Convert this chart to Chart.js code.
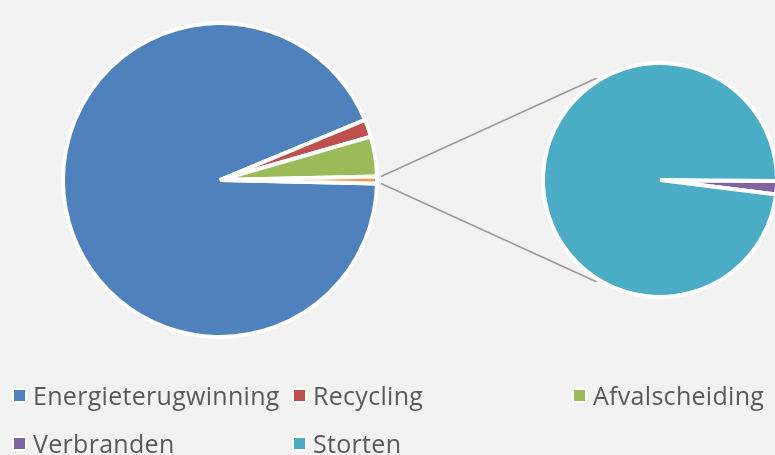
<!DOCTYPE html>
<html>
<head>
<meta charset="utf-8">
<script src="https://cdn.jsdelivr.net/npm/chart.js@4/dist/chart.umd.min.js"></script>
<style>
  html, body { margin: 0; padding: 0; }
  body { width: 775px; height: 455px; background: #f2f2f2; overflow: hidden; position: relative; font-family: 'Open Sans', sans-serif; }
  canvas { position: absolute; }
  #mainPie { left: 0; top: 0; z-index: 1; }
  #lines { left: 0; top: 0; z-index: 2; pointer-events: none; }
  #subPie { left: 530px; top: 50px; z-index: 3; }
  #legend { position: absolute; left: 12px; top: 371px; display: grid; grid-template-columns: 280px 280px 240px; z-index: 4; }
  .item { height: 48px; display: flex; align-items: center; color: #595959; font-size: 25px; letter-spacing: 0.3px; white-space: nowrap; }
  .box { width: 11px; height: 11px; border: 2px solid #fff; margin-right: 6px; flex: none; }
</style>
</head>
<body>
<canvas id="mainPie" width="440" height="360"></canvas>
<canvas id="lines" width="775" height="360"></canvas>
<canvas id="subPie" width="260" height="260"></canvas>
<div id="legend"></div>
<script>
// values (share of waste per treatment)
const main_labels = ['Energieterugwinning', 'Recycling', 'Afvalscheiding']
const main_values = [934, 18, 41]
const main_colors = ['#4f81bd', '#c0504d', '#9bbb59']

const sub_labels = ['Verbranden', 'Storten']
const sub_values = [0.13, 6.9]
const sub_colors = ['#8064a2', '#4bacc6']

const other_color = '#f79646'
const line_color = '#9a9a9a'

const other_value = sub_values.reduce((a, b) => a + b, 0)
const main_total = main_values.reduce((a, b) => a + b, 0) + other_value
const other_deg = 360 * other_value / main_total

const base_options = {
    responsive: false,
    animation: false,
    events: [],
    layout: { padding: 0 },
    plugins: { legend: { display: false }, tooltip: { enabled: false } }
}

const mainChart = new Chart(document.getElementById('mainPie'), {
    type: 'pie',
    data: {
        labels: [...main_labels, 'Overig'],
        datasets: [{
            data: [...main_values, other_value],
            backgroundColor: [...main_colors, other_color],
            borderColor: '#ffffff',
            borderWidth: 4
        }]
    },
    options: { ...base_options, radius: 157, rotation: 90 + other_deg / 2 }
})

const subChart = new Chart(document.getElementById('subPie'), {
    type: 'pie',
    data: {
        labels: sub_labels,
        datasets: [{
            data: sub_values,
            backgroundColor: sub_colors,
            borderColor: '#ffffff',
            borderWidth: 4
        }]
    },
    options: { ...base_options, radius: 117, rotation: 90.5 }
})

// connector lines between the "other" slice and the second pie
function draw_connectors() {
    const ctx = document.getElementById('lines').getContext('2d')
    const mainArc = mainChart.getDatasetMeta(0).data[main_values.length]
    const subArc = subChart.getDatasetMeta(0).data[0]
    const off = document.getElementById('subPie').getBoundingClientRect()

    const r1 = mainArc.outerRadius + 4
    const cx2 = subArc.x + off.left, cy2 = subArc.y + off.top
    const r2 = subArc.outerRadius + 3
    const spread = 122 * Math.PI / 180

    ctx.strokeStyle = line_color
    ctx.lineWidth = 1.5
    ctx.beginPath()
    ctx.moveTo(mainArc.x + r1 * Math.cos(mainArc.startAngle), mainArc.y + r1 * Math.sin(mainArc.startAngle))
    ctx.lineTo(cx2 + r2 * Math.cos(-spread), cy2 + r2 * Math.sin(-spread))
    ctx.moveTo(mainArc.x + r1 * Math.cos(mainArc.endAngle), mainArc.y + r1 * Math.sin(mainArc.endAngle))
    ctx.lineTo(cx2 + r2 * Math.cos(spread), cy2 + r2 * Math.sin(spread))
    ctx.stroke()
}
draw_connectors()

// legend, same order as the chart
const legend = document.getElementById('legend')
const legend_items = [
    ...main_labels.map((l, i) => [l, main_colors[i]]),
    ...sub_labels.map((l, i) => [l, sub_colors[i]])
]
legend_items.forEach(([label, color]) => {
    const div = document.createElement('div')
    div.className = 'item'
    div.innerHTML = `<span class="box" style="background:${color}"></span><span>${label}</span>`
    legend.append(div)
})
</script>
</body>
</html>
